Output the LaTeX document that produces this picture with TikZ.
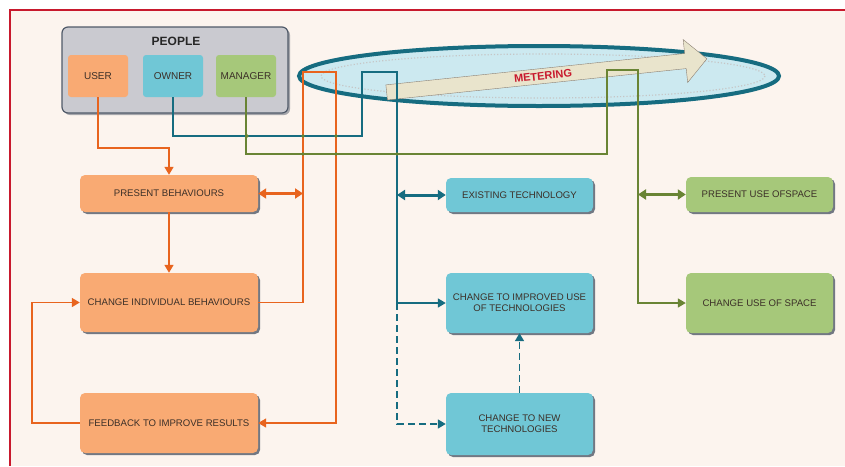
\documentclass[tikz,border=0pt]{standalone}
\usepackage{fontspec}
\setmainfont{Liberation Sans}
\usetikzlibrary{positioning,arrows.meta,shapes.arrows,shadows}
\definecolor{bgcream}{RGB}{252,244,238}
\definecolor{framered}{RGB}{200,25,45}
\definecolor{uorange}{RGB}{249,170,115}
\definecolor{lorange}{RGB}{232,100,30}
\definecolor{ocyan}{RGB}{112,199,214}
\definecolor{lteal}{RGB}{22,108,128}
\definecolor{mgreen}{RGB}{166,200,122}
\definecolor{lgreen}{RGB}{105,132,52}
\definecolor{pgray}{RGB}{202,202,208}
\definecolor{shadowgray}{RGB}{80,90,105}
\definecolor{meterblue}{RGB}{204,233,240}
\definecolor{arrowbeige}{RGB}{233,228,204}
\definecolor{boxtext}{RGB}{60,48,40}
\tikzset{
  box/.style={rounded corners=5pt, minimum width=178pt, text=boxtext, align=center,
    font=\fontsize{9.6}{11}\selectfont,
    drop shadow={shadow xshift=2pt, shadow yshift=-2pt, fill=shadowgray, opacity=.8}},
  obox/.style={box, fill=uorange},
  tbox/.style={box, fill=ocyan, minimum width=147pt},
  gbox/.style={box, fill=mgreen, minimum width=147pt},
  pbox/.style={rounded corners=3pt, minimum width=60pt, minimum height=42pt, text=boxtext,
    inner sep=1pt, font=\fontsize{10}{11}\selectfont},
  oline/.style={draw=lorange, line width=1.5pt},
  tline/.style={draw=lteal, line width=1.5pt},
  gline/.style={draw=lgreen, line width=1.5pt},
  dashline/.style={dash pattern=on 7pt off 4pt},
  tip/.style={-{Triangle[length=8pt,width=9pt]}},
  dbl/.style={line width=3pt, {Triangle[length=8pt,width=10pt]}-{Triangle[length=8pt,width=10pt]}}
}
\begin{document}
\begin{tikzpicture}[x=1pt,y=-1pt]
\useasboundingbox (0,0) rectangle (845,466);
% Background and frame
\fill[white] (0,0) rectangle (845,466);
\fill[bgcream] (10,10) rectangle (845,466);
\draw[framered, line width=2.5pt] (10,466) -- (10,10) -- (845,10);

% People
\node[draw=shadowgray, line width=1.2pt, fill=pgray, rounded corners=6pt, minimum width=226pt,
  minimum height=86pt, drop shadow={shadow xshift=2pt, shadow yshift=-2pt, fill=shadowgray}]
  (people) at (175,70) {};
\node[font=\bfseries\fontsize{12}{13}\selectfont, text=black!85] (peoplelbl) at (176,41) {PEOPLE};
\node[pbox, fill=uorange] (user) at (98,76) {USER};
\node[pbox, fill=ocyan] (owner) at (173,76) {OWNER};
\node[pbox, fill=mgreen] (manager) at (246,76) {MANAGER};

% Metering
\draw[lteal, line width=4pt, fill=meterblue] (539,76) ellipse [x radius=240, y radius=30];
\draw[white!55!gray, dotted, line width=1.2pt] (543,76) ellipse [x radius=222, y radius=22];
\node[single arrow, draw=gray!80!brown, fill=arrowbeige, rotate=6, minimum height=322pt,
  inner xsep=2pt, inner ysep=3.5pt, single arrow head extend=14pt, single arrow head indent=0pt,
  text=framered, font=\bfseries\fontsize{11}{12}\selectfont] (meter) at (543,76) {METERING};

% Boxes
\node[obox, minimum height=37pt] (present) at (169,193.5) {PRESENT BEHAVIOURS};
\node[obox, minimum height=59pt] (changeind) at (169,302.5) {CHANGE INDIVIDUAL BEHAVIOURS};
\node[obox, minimum height=60pt] (feedback) at (169,423) {FEEDBACK TO IMPROVE RESULTS};
\node[tbox, minimum height=34pt] (existing) at (519.5,195) {EXISTING TECHNOLOGY};
\node[tbox, minimum height=60pt] (improved) at (519.5,303) {CHANGE TO IMPROVED USE\\OF TECHNOLOGIES};
\node[tbox, minimum height=62pt] (newtech) at (519.5,424) {CHANGE TO NEW\\TECHNOLOGIES};
\node[gbox, minimum height=35pt] (presentspace) at (759.5,194.5) {PRESENT USE OFSPACE};
\node[gbox, minimum height=60pt] (changespace) at (759.5,303) {CHANGE USE OF SPACE};

% Bus points
\coordinate (obus) at (303,72);
\coordinate (tbus) at (397,72);
\coordinate (gbus) at (638,70);

% User lines
\draw[oline, tip] (user.south) -- ++(0,51) -| (present.north);
\draw[oline, tip] (present.south) -- (changeind.north);
\draw[oline, tip] (changeind.east) -| (obus) -- ++(33,0) |- (feedback.east);
\draw[oline, tip] (feedback.west) -- ++(-48,0) |- (changeind.west);
\draw[oline, dbl] (present.east) -- (present.east -| obus);

% Owner lines
\draw[tline, tip] (owner.south) |- (362,136) |- (tbus) |- (improved.west);
\draw[tline, dashline, tip] (improved.west -| tbus) |- (newtech.west);
\draw[tline, dashline, tip] (newtech.north) -- (improved.south);
\draw[tline, dbl] (existing.west -| tbus) -- (existing.west);

% Manager lines
\draw[gline, tip] (manager.south) |- (607,154) |- (gbus) |- (changespace.west);
\draw[gline, dbl] (presentspace.west -| gbus) -- (presentspace.west);

% Crossings
\foreach \p in {(247,136),(303,136),(336,136),(303,154),(336,154),(397,154)}
  \fill[lgreen] \p circle (1.8);
\end{tikzpicture}
\end{document}
